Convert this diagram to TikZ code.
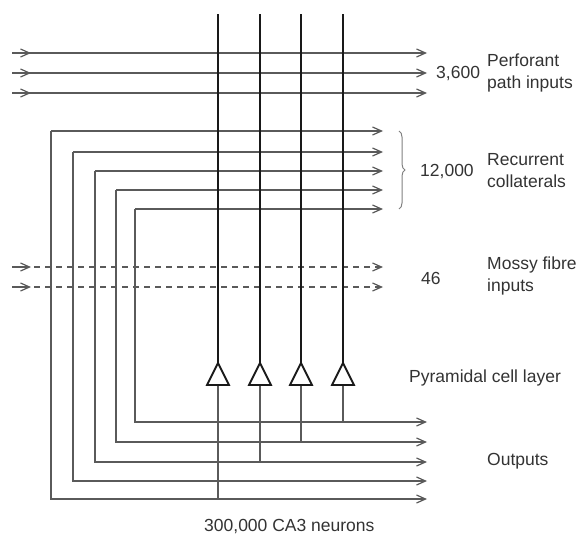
\documentclass[tikz,border=0pt]{standalone}
\usepackage{fontspec}
\setmainfont{Liberation Sans}
\usetikzlibrary{arrows.meta,decorations.pathreplacing}
\definecolor{linegray}{HTML}{5A5A5A}
\definecolor{textgray}{HTML}{333333}
\begin{document}
\begin{tikzpicture}[x=1pt,y=-1pt,
  tip/.tip={Straight Barb[length=9pt,width=8pt,line width=1.2pt]},
  fibre/.style={line width=1.3pt, draw=linegray},
  mossyline/.style={fibre, dash pattern=on 6pt off 5pt},
  axon/.style={line width=2.2pt, draw=black!90},
  soma/.style={line width=1.8pt, draw=black!90, line join=miter},
  lbl/.style={inner sep=0pt, text=textgray, font=\fontsize{17.5}{22}\selectfont, align=left},
  bracestyle/.style={line width=1pt, draw=gray, decorate, decoration={brace, amplitude=6pt}}
]
\useasboundingbox (0,0) rectangle (582,538);

% outputs
\foreach \j/\y in {1/422,2/442,3/462,4/481,5/499} {
  \coordinate (oend\j) at (427,\y);
}

% perforant path inputs
\foreach \k/\y in {1/53,2/73,3/93} {
  \coordinate (pin\k) at (12,\y);
  \coordinate (pout\k) at (427,\y);
  \draw[fibre,-tip] (pin\k) -- (pout\k);
  \draw[fibre,-tip] (pin\k) -- ++(19,0);
}

% mossy fibre inputs
\foreach \k/\y in {1/267,2/287} {
  \coordinate (min\k) at (12,\y);
  \coordinate (mout\k) at (383,\y);
  \draw[mossyline,-tip] (min\k) -- (mout\k);
  \draw[fibre,-tip] (min\k) -- ++(19,0);
}

% recurrent collaterals and outputs
\foreach \k/\x/\yt/\ob in {1/51/131/5, 2/73/152/4, 3/95/171/3, 4/116/190/2, 5/135/209/1} {
  \coordinate (rc\k) at (\x,\yt);
  \coordinate (rend\k) at (383,\yt);
  \draw[fibre,-tip] (rc\k) -- (rend\k);
  \draw[fibre,-tip] (rc\k) |- (oend\ob);
}

% pyramidal cells
\foreach \i/\x/\o in {1/218/5,2/260/3,3/301/2,4/343/1} {
  \coordinate (top\i) at (\x,14);
  \coordinate (apex\i) at (\x,363);
  \coordinate (base\i) at (\x,385);
  \draw[fibre] (base\i) -- (base\i |- oend\o);
  \draw[axon] (top\i) -- (apex\i);
  \draw[soma] ([xshift=-11pt]base\i) -- (apex\i) -- ([xshift=11pt]base\i) -- cycle;
}

% brace
\coordinate (bt) at (399,131);
\coordinate (bb) at (399,209);
\draw[bracestyle] (bt) -- (bb);

% labels
\node[lbl, anchor=west] (n3600) at (436,74) {3,600};
\node[lbl, anchor=west] (perf) at (487,73) {Perforant\\path inputs};
\node[lbl, anchor=west] (n12000) at (420,172) {12,000};
\node[lbl, anchor=west] (recur) at (487,171) {Recurrent\\collaterals};
\node[lbl, anchor=west] (n46) at (421,278) {46};
\node[lbl, anchor=west] (mossy) at (487,276) {Mossy fibre\\inputs};
\node[lbl, anchor=west] (pyr) at (409,378) {Pyramidal cell layer};
\node[lbl, anchor=west] (outs) at (487,461) {Outputs};
\node[lbl, anchor=west] (ca3) at (204,527) {300,000 CA3 neurons};
\end{tikzpicture}
\end{document}
